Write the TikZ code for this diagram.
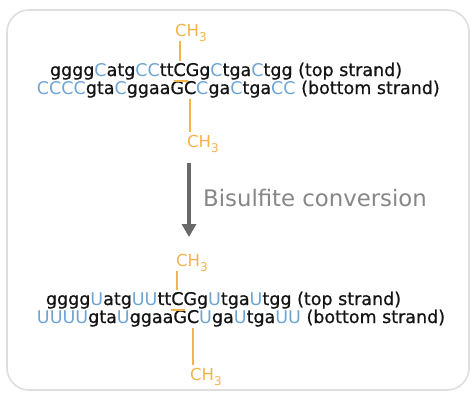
\documentclass[tikz,border=0pt]{standalone}
\usepackage{fontspec}
\setmainfont{DejaVu Sans}
\newfontfamily\dnafont[FakeBold=0.7]{DejaVu Sans}
\newfontfamily\dnathin{DejaVu Sans}
\usetikzlibrary{arrows.meta}
\definecolor{dnablue}{RGB}{110,165,215}
\definecolor{meorange}{RGB}{242,180,75}
\definecolor{txtblack}{RGB}{20,20,20}
\definecolor{arrowgray}{RGB}{105,105,105}
\definecolor{labelgray}{RGB}{135,135,135}
\definecolor{framegray}{RGB}{222,222,222}
\newcommand{\B}[1]{{\dnathin\textcolor{dnablue}{#1}}}
\newcommand{\methyl}{CH\raisebox{-5pt}{\fontsize{12}{12}\selectfont 3}}
\begin{document}
\begin{tikzpicture}[x=1pt,y=-1pt,
  seq/.style={inner sep=0pt, outer sep=0pt, anchor=base west,
    font=\dnafont\fontsize{17.5}{18}\selectfont, text=txtblack},
  chem/.style={inner sep=0pt, anchor=base west, text=meorange,
    font=\dnathin\fontsize{16.5}{17}\selectfont},
  meline/.style={draw=meorange, line width=1.8pt},
  pairbar/.style={draw=meorange, line width=2.6pt},
  convarrow/.style={draw=arrowgray, line width=3.2pt,
    -{Triangle[width=14pt,length=13pt]}}]
\useasboundingbox (0,0) rectangle (472,394);
\fill[white] (0,0) rectangle (472,394);
\draw[framegray, line width=1.6pt, rounded corners=22pt] (7,10) rectangle (469,390);

% ---- block 1 (before conversion)
\node[seq] (t1a) at (50,76) {gggg\B{C}atg\B{CC}tt};
\node[seq] (t1m) at (t1a.base east) {C};
\node[seq] (t1b) at (t1m.base east) {Gg\B{C}tga\B{C}tgg (top strand)};
\node[seq] (b1a) at (37,94) {\B{CCCC}gta\B{C}ggaaG};
\node[seq] (b1m) at (b1a.base east) {C};
\node[seq] (b1b) at (b1m.base east) {\B{C}ga\B{C}tga\B{CC} (bottom strand)};
\node[chem] (m1t) at (175,36) {\methyl};
\node[chem] (m1b) at (187,147) {\methyl};
\draw[meline] (m1t.south -| t1m.north) -- ([yshift=2pt]t1m.north);
\draw[meline] ([yshift=-5pt]b1m.base) -- ([yshift=3pt]b1m.base |- m1b.north);
\draw[pairbar] ([yshift=-5pt]t1m.base west) -- ++(14,0);

% ---- arrow
\coordinate (arrtop) at (189,163);
\coordinate (arrbot) at (189,237);
\draw[convarrow] (arrtop) -- (arrbot);
\node[anchor=base west, inner sep=0pt, text=labelgray,
  font=\dnathin\fontsize{22.8}{24}\selectfont] (conv) at (203,206) {Bisulfite conversion};

% ---- block 2 (after conversion)
\node[seq] (t2a) at (46,305) {gggg\B{U}atg\B{UU}tt};
\node[seq] (t2m) at (t2a.base east) {C};
\node[seq] (t2b) at (t2m.base east) {Gg\B{U}tga\B{U}tgg (top strand)};
\node[seq] (b2a) at (37,323) {\B{UUUU}gta\B{U}ggaaG};
\node[seq] (b2m) at (b2a.base east) {C};
\node[seq] (b2b) at (b2m.base east) {\B{U}ga\B{U}tga\B{UU} (bottom strand)};
\node[chem] (m2t) at (176,266) {\methyl};
\node[chem] (m2b) at (190,380) {\methyl};
\draw[meline] (m2t.south -| t2m.north) -- ([yshift=2pt]t2m.north);
\draw[meline] ([yshift=-5pt]b2m.base) -- ([yshift=3pt]b2m.base |- m2b.north);
\draw[pairbar] ([yshift=-5pt]t2m.base west) -- ++(14,0);
\end{tikzpicture}
\end{document}
